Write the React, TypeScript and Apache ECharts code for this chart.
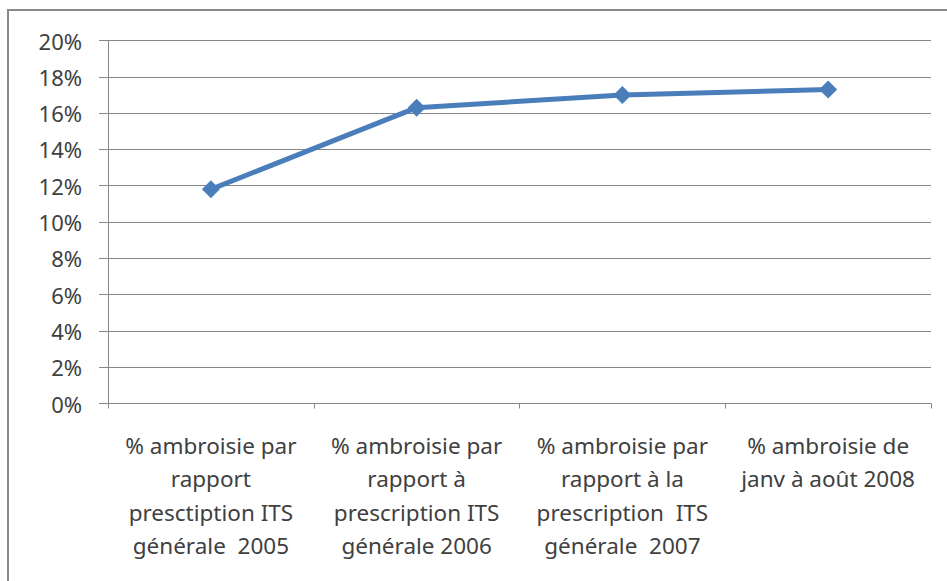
import React, { useEffect, useRef } from "react";
import * as echarts from "echarts";

const categories = [
  "% ambroisie par\nrapport\npresctiption ITS\ngénérale  2005",
  "% ambroisie par\nrapport à\nprescription ITS\ngénérale 2006",
  "% ambroisie par\nrapport à la\nprescription  ITS\ngénérale  2007",
  "% ambroisie de\njanv à août 2008",
];
const values = [0.118, 0.163, 0.17, 0.173];
const yMin = 0;
const yMax = 0.2;
const yStep = 0.02;

export default function App() {
  const ref = useRef<HTMLDivElement>(null);
  useEffect(() => {
    document.body.style.margin = "0";
    const chart = echarts.init(ref.current!, null, { renderer: "svg" });
    const font = "'Noto Sans', sans-serif";
    chart.setOption({
      animation: false,
      backgroundColor: "#ffffff",
      graphic: [
        {
          type: "rect",
          shape: { x: 8, y: 10, width: 960, height: 600 },
          style: { fill: "none", stroke: "#8a8a8a", lineWidth: 2 },
          silent: true,
        },
      ],
      grid: { left: 108, right: 16, top: 40.5, bottom: 177.5, containLabel: false },
      xAxis: {
        type: "category",
        data: categories,
        boundaryGap: true,
        axisLine: { show: true, lineStyle: { color: "#868686", width: 1 } },
        axisTick: { show: true, length: 5, alignWithLabel: false, lineStyle: { color: "#868686" } },
        axisLabel: {
          interval: 0,
          margin: 25,
          fontFamily: font,
          fontSize: 22.5,
          lineHeight: 33.5,
          color: "#404040",
          align: "center",
        },
      },
      yAxis: {
        type: "value",
        min: yMin,
        max: yMax,
        interval: yStep,
        axisLine: { show: true, lineStyle: { color: "#868686", width: 1 } },
        axisTick: { show: true, length: 9, inside: false, lineStyle: { color: "#868686" } },
        splitLine: { show: true, lineStyle: { color: "#868686", width: 1 } },
        axisLabel: {
          margin: 26,
          fontFamily: font,
          fontSize: 22,
          color: "#404040",
          formatter: (v: number) => `${Math.round(v * 100)}%`,
        },
      },
      series: [
        {
          type: "line",
          data: values,
          symbol: "diamond",
          symbolSize: 18,
          lineStyle: { color: "#4A7EBB", width: 5 },
          itemStyle: { color: "#4A7EBB" },
        },
      ],
    });
    return () => chart.dispose();
  }, []);
  return <div ref={ref} style={{ width: 947, height: 581 }} />;
}
